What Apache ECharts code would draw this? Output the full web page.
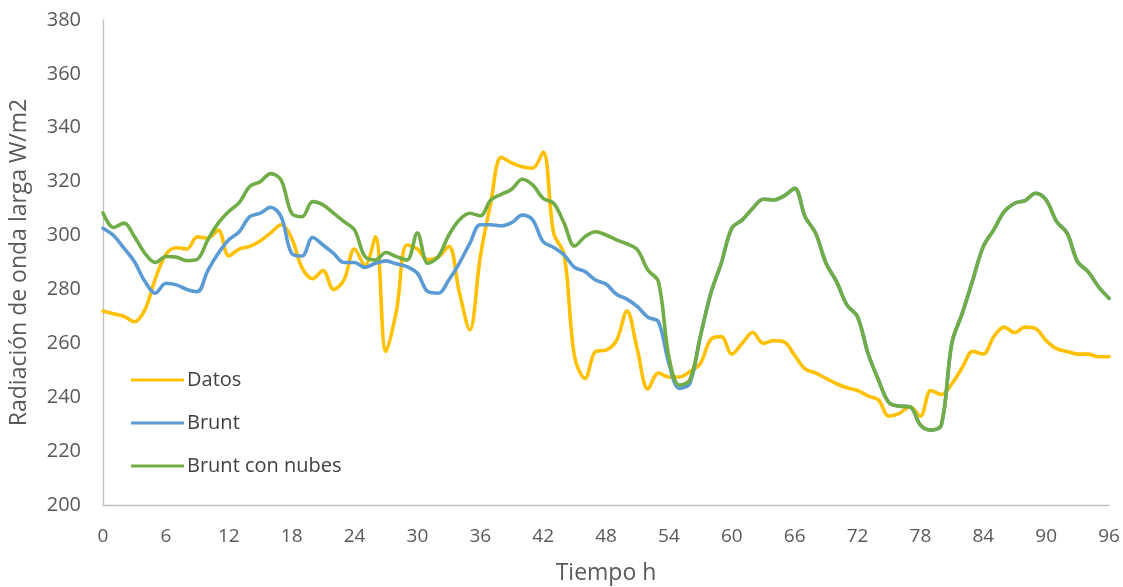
<!DOCTYPE html>
<html>
<head>
<meta charset="utf-8">
<script src="https://cdn.jsdelivr.net/npm/echarts@6/dist/echarts.min.js"></script>
<style>html,body{margin:0;padding:0;background:#fff;}#c{width:1123px;height:587px;}</style>
</head>
<body>
<div id="c"></div>
<script>
const hours = [0,1,2,3,4,5,6,7,8,9,10,11,12,13,14,15,16,17,18,19,20,21,22,23,24,25,26,27,28,29,30,31,32,33,34,35,36,37,38,39,40,41,42,43,44,45,46,47,48,49,50,51,52,53,54,55,56,57,58,59,60,61,62,63,64,65,66,67,68,69,70,71,72,73,74,75,76,77,78,79,80,81,82,83,84,85,86,87,88,89,90,91,92,93,94,95,96];
const datos = [272,271,270,268,272.5,284,293,295.5,295,299.5,299,302,292.5,295,296,298,301,304,299,288,284,287,280,283.5,295,289,299.5,257,272,296.5,295,291,292,296,279,265,292,312,329,327,325.5,325,331,301,293,255,247,257,257.5,261,272,257.5,243,249,247.5,247.5,249.5,252.5,261.5,262.5,256,260,264,260,261,260.5,255.5,250.5,249,247,245,243.5,242.5,240.5,239,233,234,236.5,233,242.5,241,245,251,257,256,262.5,266,264,266,265.5,261,258,257,256,256,255,255];
const brunt = [302.7,300,295.3,290.3,283,278.6,282.3,281.7,280,279.2,287,293.4,298.4,301.4,307,308.3,310.5,307,293.4,292.4,299.3,296.5,293.4,290,290,288.2,289.7,290.6,289.5,288.5,286,279.2,278.6,283.5,289.7,297.1,304,304,303.6,304.8,307.6,305.8,297.7,295.6,292.8,288.2,286.6,283.5,282,278.2,276.4,273.6,269.7,268,252.6,243.3,245.2,262.5,278.6,289.7,302.7,305.8,310.1,313.5,313.2,314.7,317.5,307,300.9,289.7,282.9,274.2,269.9,256.3,246.4,238,236.7,236.5,229.7,227.8,229.7,260,271.2,283.5,295.9,302.1,308.9,312,313,315.7,313.2,305.2,300.9,290.3,286.6,281,276.7];
const nubes = [308.4,303,304.6,299.6,293.4,290,292.2,292,290.7,291.2,298.4,304.6,308.9,312.2,318.2,320,323,320.6,308.3,307,312.6,311.4,308.3,305.2,302.1,292.2,290.9,293.7,292.2,290.9,300.9,289.7,292.2,300.2,305.8,308.3,307.3,313.2,315.3,317.2,320.9,318.8,313.8,312,304.6,296.1,299.6,301.4,300.2,298.4,296.9,294.7,287.2,282.9,255,244.5,246.4,262.5,278.6,289.7,302.7,305.8,310.1,313.5,313.2,314.7,317.5,307,300.9,289.7,282.9,274.2,269.9,256.3,246.4,238,236.7,236.5,229.7,227.8,229.7,260,271.2,283.5,295.9,302.1,308.9,312,313,315.7,313.2,305.2,300.9,290.3,286.6,281,276.7];
const seriesNames = ['Datos','Brunt','Brunt con nubes'];
const colors = ['#FFC000','#5B9BD5','#70AD47'];
const xTitle = 'Tiempo h';
const yTitle = 'Radiación de onda larga W/m2';

const pairs = arr => hours.map((h,i)=>[h, arr[i]]);
const font = '"Open Sans", "Noto Sans", sans-serif';
const chart = echarts.init(document.getElementById('c'), null, {renderer:'canvas'});
const mk = (name, data, color, z) => ({
  name, type:'line', data: pairs(data), smooth:0.35, symbol:'none', z,
  lineStyle:{color, width:3.6, cap:'round', join:'round'}, itemStyle:{color}
});
chart.setOption({
  animation:false,
  backgroundColor:'#fff',
  grid:{left:103, right:14, top:20, bottom:82, containLabel:false, outerBoundsMode:'none'},
  legend:{
    orient:'vertical', left:126, top:365, itemWidth:53, itemHeight:14, itemGap:23,
    icon:'path://M0,5.5 L53,5.5 L53,8.5 L0,8.5 Z',
    textStyle:{fontFamily:font, fontSize:20, color:'#404040', padding:[0,0,0,-2]},
    data: seriesNames
  },
  xAxis:{
    type:'value', min:0, max:96, interval:6,
    name:xTitle, nameLocation:'middle', nameGap:57,
    nameTextStyle:{fontFamily:font, fontSize:23, color:'#595959'},
    axisLine:{show:true, lineStyle:{color:'#BFBFBF', width:1.3}},
    axisTick:{show:false},
    axisLabel:{fontFamily:font, fontSize:19, color:'#595959', margin:22},
    splitLine:{show:false}
  },
  yAxis:{
    type:'value', min:200, max:380, interval:20,
    name:yTitle, nameLocation:'middle', nameGap:72, nameRotate:90,
    nameTextStyle:{fontFamily:font, fontSize:23, color:'#595959'},
    axisLine:{show:true, lineStyle:{color:'#BFBFBF', width:1.3}},
    axisTick:{show:false},
    axisLabel:{fontFamily:font, fontSize:20, color:'#595959', margin:22},
    splitLine:{show:false}
  },
  series:[
    mk(seriesNames[0], datos, colors[0], 2),
    mk(seriesNames[1], brunt, colors[1], 3),
    mk(seriesNames[2], nubes, colors[2], 4)
  ]
});
</script>
</body>
</html>
